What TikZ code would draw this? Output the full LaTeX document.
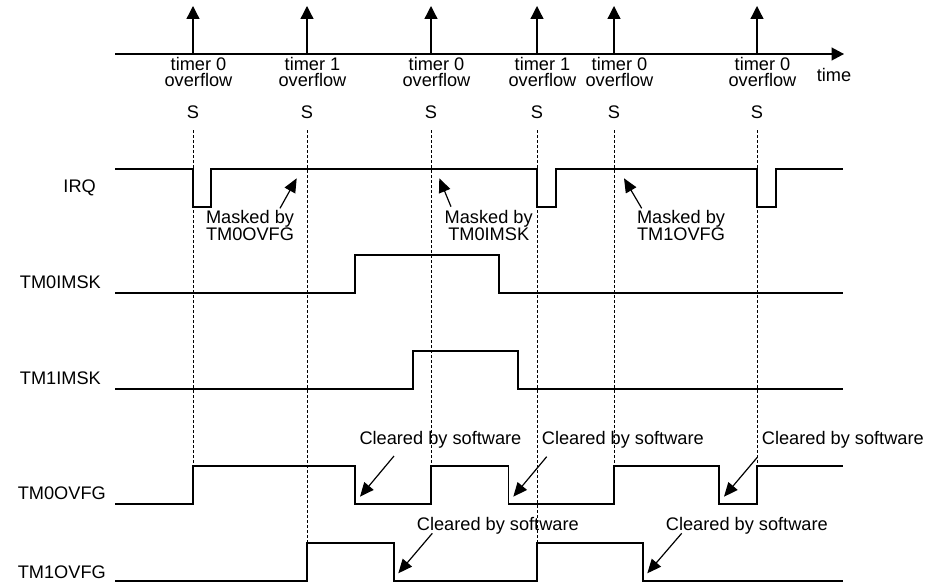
\documentclass[tikz,border=0pt]{standalone}
\usepackage{fontspec}
\setmainfont{Liberation Sans}
\usetikzlibrary{arrows.meta}
\begin{document}
\begin{tikzpicture}[x=1pt,y=-1pt,
  txt/.style={inner sep=0pt, anchor=base, font=\fontsize{18.2}{16}\selectfont},
  wave/.style={line width=1.3pt, line join=miter},
  guide/.style={line width=0.8pt, dash pattern=on 3pt off 2pt},
  evarrow/.style={line width=1.3pt, -{Triangle[length=13pt,width=13pt]}},
  note/.style={line width=1.2pt, -{Triangle[length=14pt,width=12pt]}}]
\useasboundingbox (0,0) rectangle (928,583);

% guides
\foreach \x/\n in {193/g1,431/g3,614/g5,757/g6}{
  \coordinate (\n-a) at (\x,130); \coordinate (\n-b) at (\x,466);
  \draw[guide] (\n-a) -- (\n-b);}
\foreach \x/\n in {307/g2,537/g4}{
  \coordinate (\n-a) at (\x,130); \coordinate (\n-b) at (\x,543);
  \draw[guide] (\n-a) -- (\n-b);}

% timeline
\coordinate (tl0) at (115,54);
\coordinate (tl1) at (844,54);
\draw[line width=1.3pt, -{Triangle[length=12.5pt,width=13pt]}] (tl0) -- (tl1);
\node[txt] (time) at (834,81.5) {time};

\foreach \x/\k/\n in {193/0/e1, 307/1/e2, 431/0/e3, 537/1/e4, 614/0/e5, 757/0/e6}{
  \coordinate (\n-b) at (\x,54); \coordinate (\n-t) at (\x,6);
  \draw[evarrow] (\n-b) -- (\n-t);
  \node[txt] (\n-l1) at (\x+5.5,70.5) {timer \k};
  \node[txt] (\n-l2) at (\x+5.5,87) {overflow};
  \node[txt] (\n-s) at (\x,118.5) {S};}

% signal names
\node[txt, anchor=base east] (lirq) at (96,192) {IRQ};
\node[txt, anchor=base east] (l0m) at (101,288) {TM0IMSK};
\node[txt, anchor=base east] (l1m) at (101,384) {TM1IMSK};
\node[txt, anchor=base east] (l0o) at (106,499) {TM0OVFG};
\node[txt, anchor=base east] (l1o) at (106,578) {TM1OVFG};

% waveforms
\draw[wave] (115,169) -| (193,207) -| (211,169) -| (537,207) -| (556,169) -| (757,207) -| (776,169) -- (843,169);
\draw[wave] (115,293) -| (355,255) -| (499,293) -- (843,293);
\draw[wave] (115,389) -| (413,351) -| (518,389) -- (843,389);
\draw[wave] (115,504) -| (193,466) -| (355,504) -| (431,466) -| (508.5,504) -| (614,466) -| (719,504) -| (757,466) -- (843,466);
\draw[wave] (115,581) -| (307,543) -| (394,581) -| (537,543) -| (643,581) -- (843,581);

% masked annotations
\node[txt] (m1a) at (250,223.3) {Masked by};
\node[txt] (m1b) at (250,240.7) {TM0OVFG};
\coordinate (m1t) at (280,208.3); \coordinate (m1h) at (296.7,178.3);
\draw[note] (m1t) -- (m1h);
\node[txt] (m2a) at (488.7,223.3) {Masked by};
\node[txt] (m2b) at (488.7,240.7) {TM0IMSK};
\coordinate (m2t) at (451,206.7); \coordinate (m2h) at (439.3,178.3);
\draw[note] (m2t) -- (m2h);
\node[txt] (m3a) at (681,223.3) {Masked by};
\node[txt] (m3b) at (681,240.7) {TM1OVFG};
\coordinate (m3t) at (641.7,208.3); \coordinate (m3h) at (624,178.3);
\draw[note] (m3t) -- (m3h);

% cleared annotations
\node[txt, anchor=base west] (c1) at (359.3,444) {Cleared by software};
\coordinate (c1t) at (394,456); \coordinate (c1h) at (360,496.7);
\draw[note] (c1t) -- (c1h);
\node[txt, anchor=base west] (c2) at (541.7,444) {Cleared by software};
\coordinate (c2t) at (546.7,456.7); \coordinate (c2h) at (513.3,496.7);
\draw[note] (c2t) -- (c2h);
\node[txt, anchor=base west] (c3) at (761.7,444) {Cleared by software};
\coordinate (c3t) at (757.3,457.3); \coordinate (c3h) at (724,496.7);
\draw[note] (c3t) -- (c3h);
\node[txt, anchor=base west] (c4) at (416.7,530.7) {Cleared by software};
\coordinate (c4t) at (432.3,533.3); \coordinate (c4h) at (398.3,573.3);
\draw[note] (c4t) -- (c4h);
\node[txt, anchor=base west] (c5) at (665.7,530.7) {Cleared by software};
\coordinate (c5t) at (681.7,533.3); \coordinate (c5h) at (647.3,573.3);
\draw[note] (c5t) -- (c5h);
\end{tikzpicture}
\end{document}
